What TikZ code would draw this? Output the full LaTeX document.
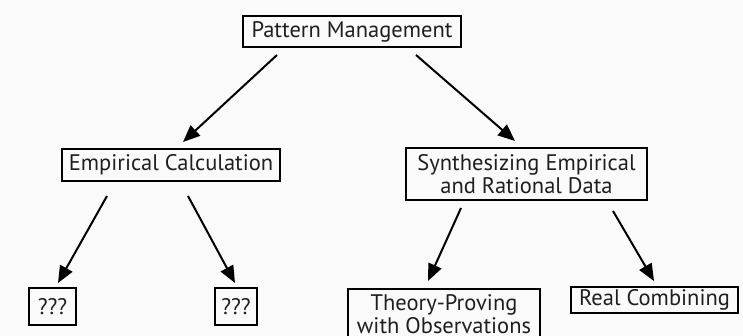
\documentclass[tikz,border=0pt]{standalone}
\usepackage{fontspec}
\setmainfont{PT Sans}
\usetikzlibrary{arrows.meta}
\begin{document}
\begin{tikzpicture}[x=1pt,y=-1pt,
  box/.style={draw=black,line width=1.6pt,inner sep=0pt,align=center,font=\fontsize{22.5}{23.5}\selectfont,text=black!88},
  arr/.style={line width=2pt,-{Triangle[length=17pt,width=14pt]}}]
\useasboundingbox (0,0) rectangle (743,336);
\fill[white!98!black] (0,0) rectangle (743,336);
\begin{scope}
\clip (0,0) rectangle (743,336);
\node[box,minimum width=218pt,minimum height=31pt] (pm) at (352,31.5) {Pattern Management};
\node[box,minimum width=218pt,minimum height=32pt] (ec) at (171,165) {Empirical Calculation};
\node[box,minimum width=47pt,minimum height=37pt] (q1) at (52.5,306.5) {???};
\node[box,minimum width=42pt,minimum height=37pt] (q2) at (236,306.5) {???};
\node[box,minimum width=241pt,minimum height=52pt] (syn) at (526.5,174) {Synthesizing Empirical\\and Rational Data};
\node[box,minimum width=192pt,minimum height=51pt,anchor=north] (thp) at (444,288) {Theory-Proving\\with Observations};
\node[box,minimum width=167pt,minimum height=26pt] (rc) at (654.5,300) {Real Combining};
\end{scope}
\coordinate (a1s) at (277,55); \coordinate (a1e) at (183,142);
\coordinate (a2s) at (416,55); \coordinate (a2e) at (515,141);
\coordinate (a3s) at (107,196); \coordinate (a3e) at (58,283);
\coordinate (a4s) at (188,196); \coordinate (a4e) at (235,283);
\coordinate (a5s) at (461,208); \coordinate (a5e) at (428,281);
\coordinate (a6s) at (613,211); \coordinate (a6e) at (654,281);
\draw[arr] (a1s) -- (a1e);
\draw[arr] (a2s) -- (a2e);
\draw[arr] (a3s) -- (a3e);
\draw[arr] (a4s) -- (a4e);
\draw[arr] (a5s) -- (a5e);
\draw[arr] (a6s) -- (a6e);
\end{tikzpicture}
\end{document}
